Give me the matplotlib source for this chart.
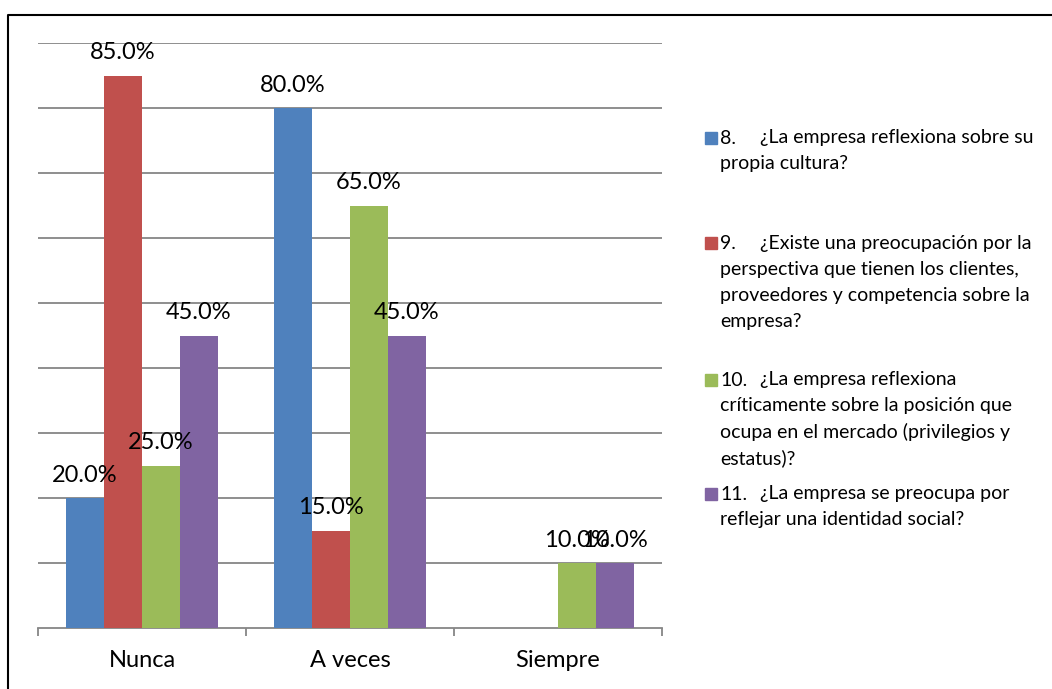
import numpy as np
import matplotlib.pyplot as plt
from matplotlib.patches import Rectangle
from matplotlib.lines import Line2D

plt.rcParams['font.family'] = ['Lato', 'DejaVu Sans']

# DATA
categories = ["Nunca", "A veces", "Siempre"]
q8  = [20.0, 80.0, 0.0]
q9  = [85.0, 15.0, 0.0]
q10 = [25.0, 65.0, 10.0]
q11 = [45.0, 45.0, 10.0]
series = [q8, q9, q10, q11]
colors = ["#4F81BD", "#C0504D", "#9BBB59", "#8064A2"]

# legend text: number, rest of first line, wrapped lines
legend_num = ["8.", "9.", "10.", "11."]
legend_first = ["¿La empresa reflexiona sobre su",
                "¿Existe una preocupación por la",
                "¿La empresa reflexiona",
                "¿La empresa se preocupa por"]
legend_rest = [["propia cultura?"],
               ["perspectiva que tienen los clientes,",
                "proveedores y competencia sobre la",
                "empresa?"],
               ["críticamente sobre la posición que",
                "ocupa en el mercado (privilegios y",
                "estatus)?"],
               ["reflejar una identidad social?"]]

W, H = 1052, 689
fig = plt.figure(figsize=(W / 100, H / 100), dpi=100)
ax = fig.add_axes([38 / W, 1 - 628 / H, 624 / W, 585 / H])

x = np.arange(len(categories))
bw = 0.1827
for i, (vals, c) in enumerate(zip(series, colors)):
    pos = x + (i - 1.5) * bw
    for xp, v in zip(pos, vals):
        if v <= 0:
            continue
        ax.bar(xp, v, width=bw, color=c, zorder=3)
        ax.annotate(f"{v:.1f}%", (xp, v), xytext=(0, 16.5), textcoords="offset points",
                    ha="center", va="center", fontsize=17, color="black", zorder=5)

ax.set_xlim(-0.5, 2.5)
ax.set_ylim(0, 90)
ax.set_yticks(np.arange(10, 91, 10))
ax.yaxis.grid(True, color="#868686", linewidth=1.3, zorder=0)
ax.tick_params(axis="y", left=False, labelleft=False)
for s in ["top", "right", "left"]:
    ax.spines[s].set_visible(False)
ax.spines["bottom"].set_color("#868686")
ax.spines["bottom"].set_linewidth(1.3)

ax.set_xticks([-0.5, 0.5, 1.5, 2.5])
ax.set_xticks(x, minor=True)
ax.set_xticklabels([])
ax.set_xticklabels(categories, minor=True, fontsize=17)
ax.tick_params(axis="x", which="major", direction="out", length=6, width=1.3, color="#868686")
ax.tick_params(axis="x", which="minor", length=0, pad=16)

# legend drawn by hand so wrapped lines hang under the number
line_h = 26
y0 = [138, 243, 380, 494]
for num, first, rest, c, y in zip(legend_num, legend_first, legend_rest, colors, y0):
    fig.patches.append(Rectangle((705 / W, 1 - (y + 6) / H), 12 / W, 12 / H,
                                 transform=fig.transFigure, color=c))
    fig.text(720 / W, 1 - y / H, num, fontsize=14, va="center", ha="left")
    fig.text(760 / W, 1 - y / H, first, fontsize=14, va="center", ha="left")
    for k, line in enumerate(rest, start=1):
        fig.text(720 / W, 1 - (y + k * line_h) / H, line, fontsize=14,
                 va="center", ha="left")

# outer frame
fig.lines.append(Line2D([8 / W, 8 / W, 1.0], [0.0, 1 - 15 / H, 1 - 15 / H],
                        transform=fig.transFigure, color="black", linewidth=1.5))

fig.savefig("out.png", dpi=100, facecolor="white")
